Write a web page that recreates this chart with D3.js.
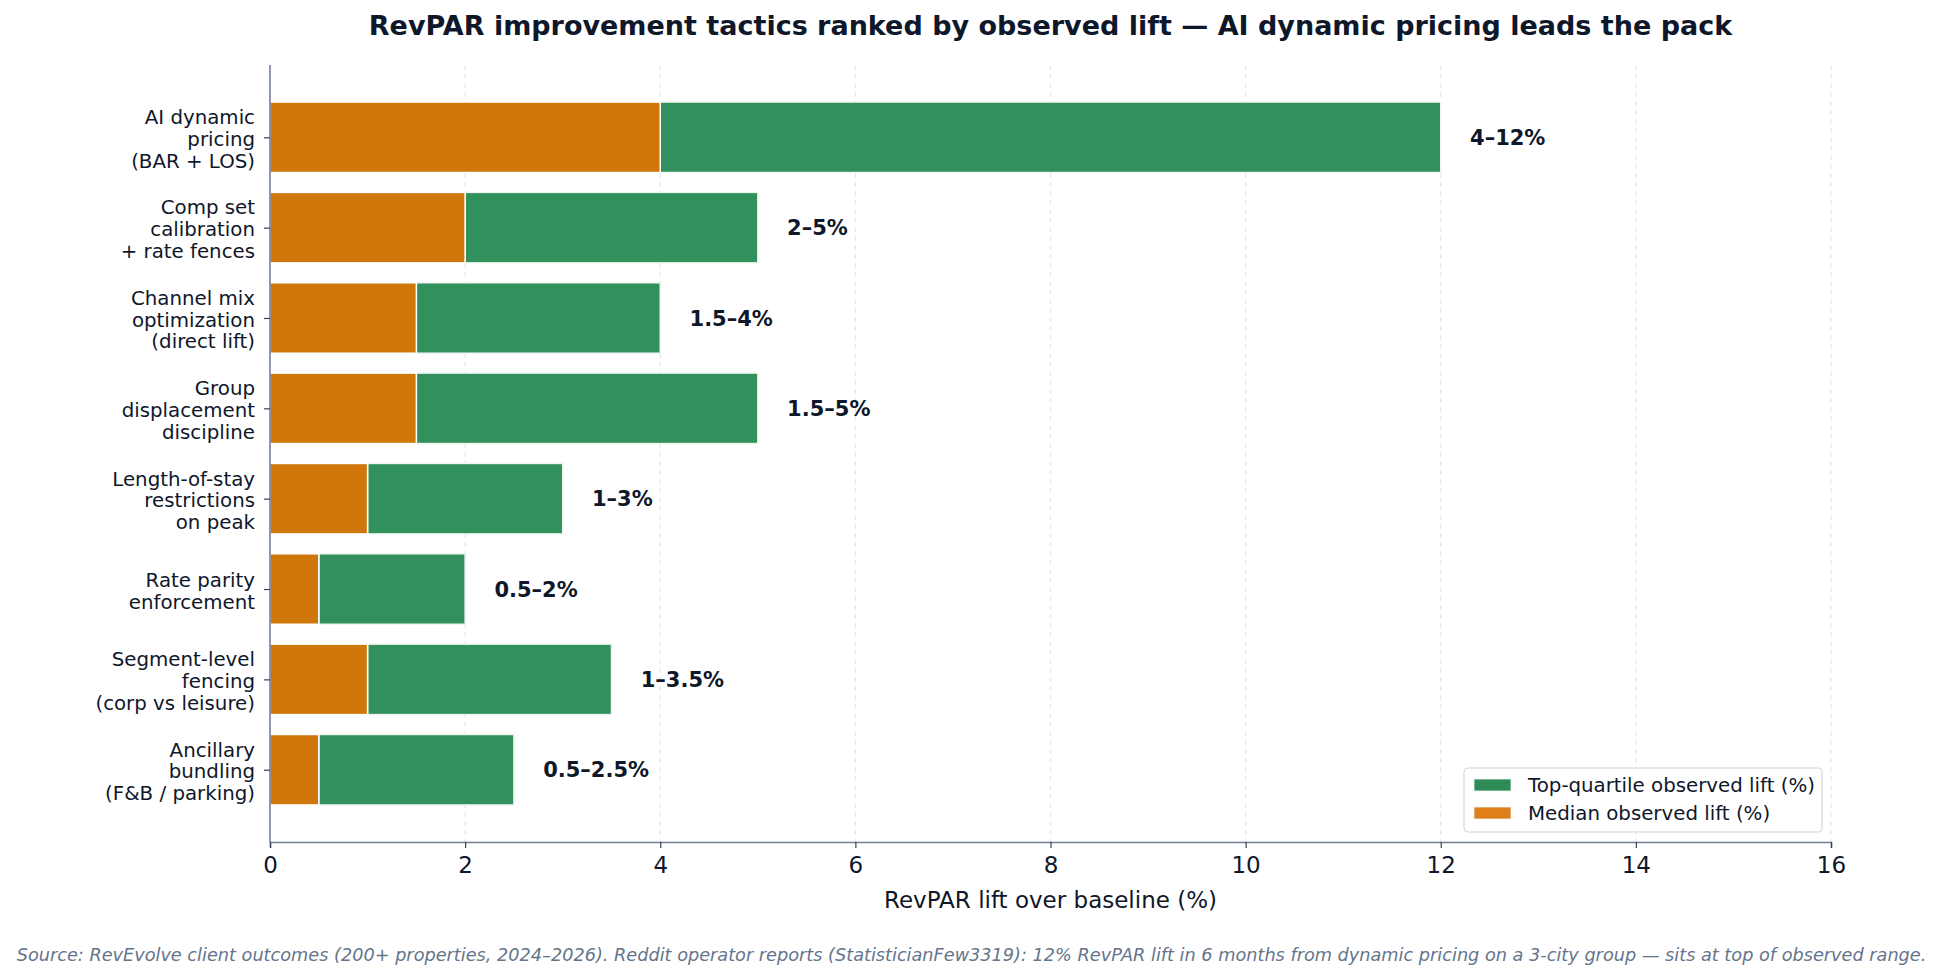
<!DOCTYPE html>
<html>
<head>
<meta charset="utf-8">
<script src="https://cdn.jsdelivr.net/npm/d3@7"></script>
<style>
  html, body { margin: 0; padding: 0; background: #ffffff; }
  svg { display: block; font-family: "DejaVu Sans", sans-serif; }
</style>
</head>
<body>
<svg id="chart" width="1943" height="979"></svg>
<script>
// ---- data ----
const categories = [
  "AI dynamic\npricing\n(BAR + LOS)",
  "Comp set\ncalibration\n+ rate fences",
  "Channel mix\noptimization\n(direct lift)",
  "Group\ndisplacement\ndiscipline",
  "Length-of-stay\nrestrictions\non peak",
  "Rate parity\nenforcement",
  "Segment-level\nfencing\n(corp vs leisure)",
  "Ancillary\nbundling\n(F&B / parking)"
];
const medianLift = [4, 2, 1.5, 1.5, 1, 0.5, 1, 0.5];
const topQuartileLift = [12, 5, 4, 5, 3, 2, 3.5, 2.5];
const rangeLabels = ["4–12%", "2–5%", "1.5–4%", "1.5–5%", "1–3%", "0.5–2%", "1–3.5%", "0.5–2.5%"];
const xTicks = [0, 2, 4, 6, 8, 10, 12, 14, 16];
const seriesNames = ["Top-quartile observed lift (%)", "Median observed lift (%)"];
const titleText = "RevPAR improvement tactics ranked by observed lift — AI dynamic pricing leads the pack";
const xLabelText = "RevPAR lift over baseline (%)";
const footerText = "Source: RevEvolve client outcomes (200+ properties, 2024–2026). Reddit operator reports (StatisticianFew3319): 12% RevPAR lift in 6 months from dynamic pricing on a 3-city group — sits at top of observed range.";

// ---- layout ----
const W = 1943, H = 979;
const L = 270, R = 1831, T = 65, B = 842;
const GREEN = "#31905b", ORANGE = "#cf770a";
const GREEN_LEG = "#2e8b57", ORANGE_LEG = "#df7f19";
const INK = "#0f172a", SPINE = "#718096";

const svg = d3.select("#chart");
const x = d3.scaleLinear().domain([0, 16]).range([L, R]);
const y = d3.scaleLinear().domain([-0.8, 7.8]).range([T, B]);
const barH = y(0.78) - y(0);

// grid
svg.append("g").selectAll("line").data(xTicks.filter(d => d > 0)).join("line")
  .attr("x1", d => x(d)).attr("x2", d => x(d)).attr("y1", T).attr("y2", B)
  .attr("stroke", "#e5e7eb").attr("stroke-width", 1.2).attr("stroke-dasharray", "5,4");

const idx = d3.range(categories.length);

// top-quartile (green) segments from median to top
svg.append("g").selectAll("rect").data(idx).join("rect")
  .attr("x", i => x(medianLift[i])).attr("width", i => x(topQuartileLift[i]) - x(medianLift[i]))
  .attr("y", i => y(i) - barH / 2).attr("height", barH)
  .attr("fill", GREEN).attr("stroke", "#eef6f1").attr("stroke-width", 1.5);

// median (orange)
svg.append("g").selectAll("rect").data(idx).join("rect")
  .attr("x", x(0)).attr("width", i => x(medianLift[i]) - x(0))
  .attr("y", i => y(i) - barH / 2).attr("height", barH)
  .attr("fill", ORANGE).attr("stroke", "#ffffff").attr("stroke-width", 1.5);

// value labels
svg.append("g").selectAll("text").data(idx).join("text")
  .attr("x", i => x(topQuartileLift[i] + 0.3)).attr("y", i => y(i))
  .attr("dy", "0.36em").attr("fill", INK).attr("font-weight", "bold").attr("font-size", 21)
  .text(i => rangeLabels[i]);

// x axis
const xAxis = d3.axisBottom(x).tickValues(xTicks).tickFormat(d3.format("d")).tickSize(6).tickPadding(9);
const gx = svg.append("g").attr("transform", `translate(0,${B})`).call(xAxis);
gx.select(".domain").attr("stroke", SPINE).attr("stroke-width", 1.6);
gx.selectAll(".tick line").attr("stroke", "#334155").attr("stroke-width", 1.2);
gx.selectAll(".tick text").attr("fill", INK).attr("font-size", 23).attr("font-family", "DejaVu Sans");

// y axis (spine + ticks), labels manual for multi-line
const yAxis = d3.axisLeft(y).tickValues(idx).tickFormat("").tickSize(6).tickSizeOuter(0);
const gy = svg.append("g").attr("transform", `translate(${L},0)`).call(yAxis);
gy.select(".domain").attr("stroke", SPINE).attr("stroke-width", 1.6).attr("d", `M0,${T}V${B}`);
gy.selectAll(".tick line").attr("stroke", "#334155").attr("stroke-width", 1.2);

const lh = 21.8;
const yl = svg.append("g").selectAll("text").data(idx).join("text")
  .attr("text-anchor", "end").attr("fill", INK).attr("font-size", 19.8);
yl.each(function(i) {
  const lines = categories[i].split("\n");
  const t = d3.select(this);
  const y0 = y(i) - (lines.length - 1) * lh / 2 + 1.5;
  lines.forEach((ln, k) => {
    t.append("tspan").attr("x", L - 15).attr("y", y0 + k * lh).attr("dy", "0.36em").text(ln);
  });
});

// title
svg.append("text").attr("x", (L + R) / 2).attr("y", 35).attr("text-anchor", "middle")
  .attr("font-weight", "bold").attr("font-size", 27).attr("fill", INK).text(titleText);

// x label
svg.append("text").attr("x", (L + R) / 2).attr("y", 908).attr("text-anchor", "middle")
  .attr("font-size", 23).attr("fill", INK).text(xLabelText);

// footer
svg.append("text").attr("x", W / 2).attr("y", 961).attr("text-anchor", "middle")
  .attr("font-size", 17.7).attr("font-style", "italic").attr("fill", "#64748b").text(footerText);

// legend
const lg = svg.append("g");
lg.append("rect").attr("x", 1464).attr("y", 768).attr("width", 358).attr("height", 64)
  .attr("rx", 4).attr("fill", "#ffffff").attr("fill-opacity", 0.9)
  .attr("stroke", "#d4d4d4").attr("stroke-width", 1.2);
const legColors = [GREEN_LEG, ORANGE_LEG];
seriesNames.forEach((name, k) => {
  const cy = 785 + k * 28;
  lg.append("rect").attr("x", 1474).attr("y", cy - 6).attr("width", 37).attr("height", 12)
    .attr("fill", legColors[k]).attr("stroke", "#eef6f1").attr("stroke-width", 0.8);
  lg.append("text").attr("x", 1528).attr("y", cy).attr("dy", "0.36em")
    .attr("font-size", 19.8).attr("fill", INK).text(name);
});
</script>
</body>
</html>
